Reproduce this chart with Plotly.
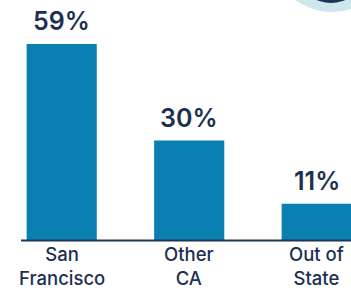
import plotly.graph_objects as go

categories = ["San Francisco", "Other CA", "Out of State"]
tick_labels = ["San<br>Francisco", "Other<br>CA", "Out of<br>State"]
values = [59, 30, 11]
value_labels = ["59%", "30%", "11%"]

W, H = 351, 291
BAR = "#0a7fb2"
NAVY = "#1d3050"

fig = go.Figure(go.Bar(x=categories, y=values, marker_color=BAR, marker_line_width=0,
                       width=0.55, hoverinfo="skip"))

annotations = []
for c, t, v in zip(categories, value_labels, values):
    annotations.append(dict(x=c, y=v, xref="x", yref="y", text=t, showarrow=False,
                            yanchor="middle", yshift=23,
                            font=dict(family="Inter", size=25, color=NAVY, weight=600)))
for c, t in zip(categories, tick_labels):
    annotations.append(dict(x=c, y=1 - 265.5 / H, xref="x", yref="paper",
                            text=t, showarrow=False, yanchor="middle", align="center",
                            borderpad=0,
                            font=dict(family="Inter", size=18.5, color=NAVY, weight=500)))

shapes = [
    dict(type="circle", xref="paper", yref="paper", x0=270 / W, x1=394 / W,
         y0=1 - 12 / H, y1=1 + 112 / H, fillcolor="#cfe6ef", line_width=0, layer="below"),
    dict(type="circle", xref="paper", yref="paper", x0=303 / W, x1=359 / W,
         y0=1 - 3 / H, y1=1 + 40 / H, fillcolor="#1d3556", line_width=0, layer="below"),
    dict(type="line", xref="x", yref="y", x0=-0.319, x1=2.3, y0=0, y1=0,
         line=dict(color="#1f3556", width=2), layer="above"),
]

fig.update_layout(
    width=W, height=H, margin=dict(l=0, r=0, t=0, b=0),
    paper_bgcolor="white", plot_bgcolor="white", showlegend=False,
    xaxis=dict(type="category", range=[-0.484, 2.269], showticklabels=False,
               showgrid=False, zeroline=False, showline=False, fixedrange=True),
    yaxis=dict(range=[-15.2, 72.2], visible=False, showgrid=False, zeroline=False,
               fixedrange=True),
    annotations=annotations, shapes=shapes,
)

fig.write_html("out.html", config={"displayModeBar": False},
               post_script="document.body.style.margin='0';document.body.style.overflow='hidden';")
